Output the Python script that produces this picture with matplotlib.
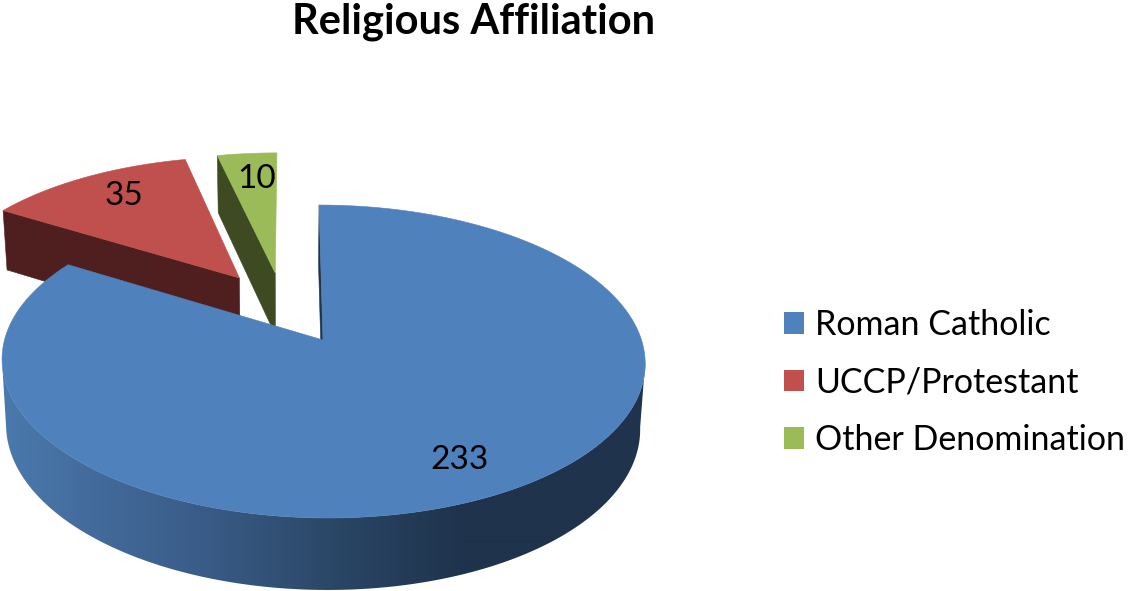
import numpy as np
import matplotlib
matplotlib.use("Agg")
import matplotlib.pyplot as plt
from matplotlib.patches import Polygon, Patch
from matplotlib.colors import to_rgb

title = "Religious Affiliation"
categories = ["Roman Catholic", "UCCP/Protestant", "Other Denomination"]
values = [233, 35, 10]
top_colors = ["#4F81BD", "#C0504D", "#9BBB59"]
wall_colors = ["#1F334D", "#4F1F1F", "#3D4A22"]
explode = [(0.0, 0.0), (-0.272, 0.428), (-0.153, 0.464)]
label_xy = [(460, 460), (124, 196), (257, 179)]

plt.rcParams["font.family"] = ["Lato", "DejaVu Sans"]
fig = plt.figure(figsize=(11.29, 5.91), dpi=100)
ax = fig.add_axes([0, 0, 1, 1])
ax.axis("off")

# Perspective projection of the unit pie disc
K = 0.1374
CX = 323.0
SKEW = -4.5


def top(u, v):
    d = 1 + K * v
    return np.column_stack([CX + (318.5 * u + SKEW * v) / d, (340 - 106.8 * v) / d])


def low(u, v):
    d = 1 + K * v
    return np.column_stack([CX - 0.5 + (314 * u + SKEW * v) / d, (404.7 - 104.2 * v) / d])


def arc(a0, a1, off, n=240):
    t = np.radians(np.linspace(a0, a1, n))
    return np.sin(t) + off[0], np.cos(t) + off[1]


fracs = np.array(values) / sum(values) * 360
edges = np.concatenate([[0], np.cumsum(fracs)])


def add_poly(pts, color, z):
    ax.add_patch(Polygon(pts, closed=True, fc=color, ec=color, lw=0.4, zorder=z))


def draw_slice(i, z):
    off = explode[i]
    a0, a1 = edges[i], edges[i + 1]
    au, av = np.array([off[0]]), np.array([off[1]])
    u, v = arc(a0, a1, off)
    add_poly(np.vstack([top(au, av), top(u, v)]), top_colors[i], z)


# Exploded slices: inner wall below the left edge, then the top
for i, z in [(2, 1), (1, 3)]:
    off = explode[i]
    au, av = np.array([off[0]]), np.array([off[1]])
    t = np.radians(edges[i])
    eu, ev = np.array([np.sin(t) + off[0]]), np.array([np.cos(t) + off[1]])
    add_poly(np.vstack([top(au, av), top(eu, ev), low(eu, ev), low(au, av)]), wall_colors[i], z)
    draw_slice(i, z + 1)

# Blue outer wall with horizontal shading, clipped to the wall outline
wall_x = [5, 100, 200, 340, 460, 650]
wall_rgb = np.array([to_rgb(c) for c in ["#4B79AD", "#426A9A", "#3A5C88", "#2A4665", "#1F334D", "#1F334D"]])
t = np.radians(np.linspace(98, 262, 400))
ut, vt = np.sin(t), np.cos(t)
outline = np.vstack([top(ut, vt), low(ut, vt)[::-1]])
xs = np.arange(0, 660)
grad = np.stack([np.interp(xs, wall_x, wall_rgb[:, c]) for c in range(3)], axis=-1)[None, :, :]
wall_patch = Polygon(outline, closed=True, fc="none", ec="none", transform=ax.transData)
ax.add_patch(wall_patch)
im = ax.imshow(grad, extent=(0, 660, 600, 340), aspect="auto", interpolation="bilinear", zorder=5)
im.set_clip_path(wall_patch)

# Blue start wall: a thin sliver beside the top edge
s0 = np.array([0.0]), np.array([1.0])
c0 = np.array([0.0]), np.array([0.0])
add_poly(np.vstack([top(*c0), top(*s0), low(*s0), low(*c0)]), wall_colors[0], 5)
draw_slice(0, 6)

ax.set_xlim(0, 1129)
ax.set_ylim(591, 0)

for xy, val in zip(label_xy, values):
    ax.text(xy[0], xy[1], str(val), fontsize=24, color="black", ha="center", va="center", zorder=10)

ax.text(474, 22, title, fontsize=30, fontweight="bold", color="black", ha="center", va="center")

handles = [Patch(fc=c, ec="none") for c in top_colors]
ax.legend(handles, categories, loc="upper left", bbox_to_anchor=(784 / 1129, 1 - 309 / 591),
          frameon=False, fontsize=24.5, handlelength=0.59, handleheight=0.61, handletextpad=0.32,
          labelspacing=0.75, borderpad=0, borderaxespad=0)

fig.savefig("out.png", dpi=100)
